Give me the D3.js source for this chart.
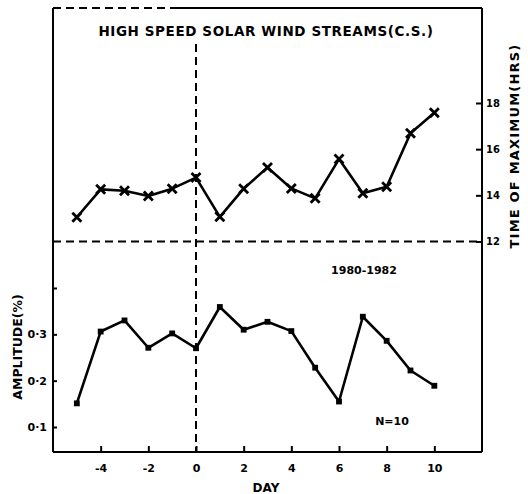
<!DOCTYPE html>
<html lang="en">
<head>
    <meta charset="UTF-8">
    <title>High speed solar wind streams</title>
    <script src="https://d3js.org/d3.v7.min.js"></script>
    <style>
        body { margin: 0; background: #fff; }
        text { font-family: "DejaVu Sans", sans-serif; font-weight: bold; fill: #000; }
        .frame { fill: none; stroke: #000; stroke-width: 2; }
        .dash { fill: none; stroke: #000; stroke-width: 2; stroke-dasharray: 8 5; }
        .series { fill: none; stroke: #000; stroke-width: 2.6; stroke-linejoin: round; }
    </style>
</head>
<body>
    <svg width="528" height="494"></svg>
    <script>
        // days relative to the stream onset
        const days = [-5, -4, -3, -2, -1, 0, 1, 2, 3, 4, 5, 6, 7, 8, 9, 10];
        // time of maximum (hours)
        const timeMax = [13.05, 14.26, 14.2, 13.97, 14.29, 14.77, 13.07, 14.29, 15.21, 14.3, 13.87, 15.57, 14.09, 14.37, 16.69, 17.58];
        // amplitude (%)
        const amplitude = [0.151, 0.306, 0.33, 0.271, 0.302, 0.27, 0.359, 0.31, 0.327, 0.307, 0.228, 0.155, 0.338, 0.286, 0.222, 0.189];

        const dayTicks = [-4, -2, 0, 2, 4, 6, 8, 10];
        const hourTicks = [12, 14, 16, 18];
        const ampTicks = [0.1, 0.2, 0.3, 0.4];
        const ampLabels = ["0·1", "0·2", "0·3", ""];

        const pLeft = 53, pRight = 482, pTop = 8, pBottom = 452;

        const svg = d3.select("svg");

        const x = d3.scaleLinear().domain([-6, 12]).range([pLeft, pRight]);
        const yTop = d3.scaleLinear().domain([12, 18]).range([241.5, 103]);
        const yBot = d3.scaleLinear().domain([0.1, 0.4]).range([427, 288]);

        // frame (top edge is broken on the left in the original)
        svg.append("line").attr("class", "dash")
            .attr("x1", pLeft).attr("x2", 172).attr("y1", pTop).attr("y2", pTop);
        svg.append("line").attr("class", "frame")
            .attr("x1", 172).attr("x2", pRight).attr("y1", pTop).attr("y2", pTop);
        svg.append("line").attr("class", "frame")
            .attr("x1", pLeft).attr("x2", pLeft).attr("y1", pTop).attr("y2", pBottom);
        svg.append("line").attr("class", "frame")
            .attr("x1", pRight).attr("x2", pRight).attr("y1", pTop).attr("y2", pBottom);
        svg.append("line").attr("class", "frame")
            .attr("x1", pLeft).attr("x2", pRight).attr("y1", pBottom).attr("y2", pBottom);

        // dashed separators
        svg.append("line").attr("class", "dash")
            .attr("x1", pLeft).attr("x2", pRight)
            .attr("y1", yTop(12)).attr("y2", yTop(12));
        svg.append("line").attr("class", "dash")
            .attr("x1", x(0)).attr("x2", x(0))
            .attr("y1", 44).attr("y2", pBottom);

        // bottom axis
        const xAxis = d3.axisBottom(x).tickValues(dayTicks).tickSize(-6).tickPadding(12)
            .tickFormat(d => String(d));
        const gx = svg.append("g").attr("transform", `translate(0,${pBottom})`).call(xAxis);
        gx.select(".domain").remove();
        gx.selectAll(".tick line").attr("stroke", "#000").attr("stroke-width", 2);
        gx.selectAll(".tick text").style("font-size", "11px");

        // right axis (time of maximum)
        const yAxisR = d3.axisRight(yTop).tickValues(hourTicks).tickSize(-6).tickPadding(9)
            .tickFormat(d => String(d));
        const gr = svg.append("g").attr("transform", `translate(${pRight},0)`).call(yAxisR);
        gr.select(".domain").remove();
        gr.selectAll(".tick line").attr("stroke", "#000").attr("stroke-width", 2);
        gr.selectAll(".tick text").style("font-size", "10px").attr("dx", -5);

        // left axis (amplitude)
        const yAxisL = d3.axisLeft(yBot).tickValues(ampTicks).tickSize(-4).tickPadding(6)
            .tickFormat((d, i) => ampLabels[i]);
        const gl = svg.append("g").attr("transform", `translate(${pLeft},0)`).call(yAxisL);
        gl.select(".domain").remove();
        gl.selectAll(".tick line").attr("stroke", "#000").attr("stroke-width", 2);
        gl.selectAll(".tick text").style("font-size", "11px");

        // time of maximum series
        const lineTop = d3.line().x((d, i) => x(days[i])).y(d => yTop(d));
        svg.append("path").attr("class", "series").attr("d", lineTop(timeMax));
        svg.selectAll(".xmark").data(timeMax).enter().append("path")
            .attr("class", "xmark")
            .attr("transform", (d, i) => `translate(${x(days[i])},${yTop(d)})`)
            .attr("d", "M-4.5,-4.5L4.5,4.5M-4.5,4.5L4.5,-4.5")
            .attr("stroke", "#000").attr("stroke-width", 2.8);

        // amplitude series
        const lineBot = d3.line().x((d, i) => x(days[i])).y(d => yBot(d));
        svg.append("path").attr("class", "series").attr("d", lineBot(amplitude));
        svg.selectAll(".smark").data(amplitude).enter().append("path")
            .attr("class", "smark")
            .attr("transform", (d, i) => `translate(${x(days[i])},${yBot(d)})`)
            .attr("d", d3.symbol(d3.symbolSquare, 34));

        // texts
        svg.append("text").attr("x", 266).attr("y", 36)
            .attr("text-anchor", "middle").style("font-size", "13.5px")
            .style("letter-spacing", "0.6px")
            .text("HIGH SPEED SOLAR WIND STREAMS(C.S.)");
        svg.append("text").attr("x", 364).attr("y", 274)
            .attr("text-anchor", "middle").style("font-size", "11px")
            .text("1980-1982");
        svg.append("text").attr("x", 392).attr("y", 425)
            .attr("text-anchor", "middle").style("font-size", "11px")
            .text("N=10");
        svg.append("text").attr("x", 266).attr("y", 492)
            .attr("text-anchor", "middle").style("font-size", "12px")
            .text("DAY");
        svg.append("text")
            .attr("transform", "translate(22,347) rotate(-90)")
            .attr("text-anchor", "middle").style("font-size", "12.5px")
            .text("AMPLITUDE(%)");
        svg.append("text")
            .attr("transform", "translate(519,146) rotate(-90)")
            .attr("text-anchor", "middle").style("font-size", "13px")
            .style("letter-spacing", "1.2px")
            .text("TIME OF MAXIMUM(HRS)");
    </script>
</body>
</html>
